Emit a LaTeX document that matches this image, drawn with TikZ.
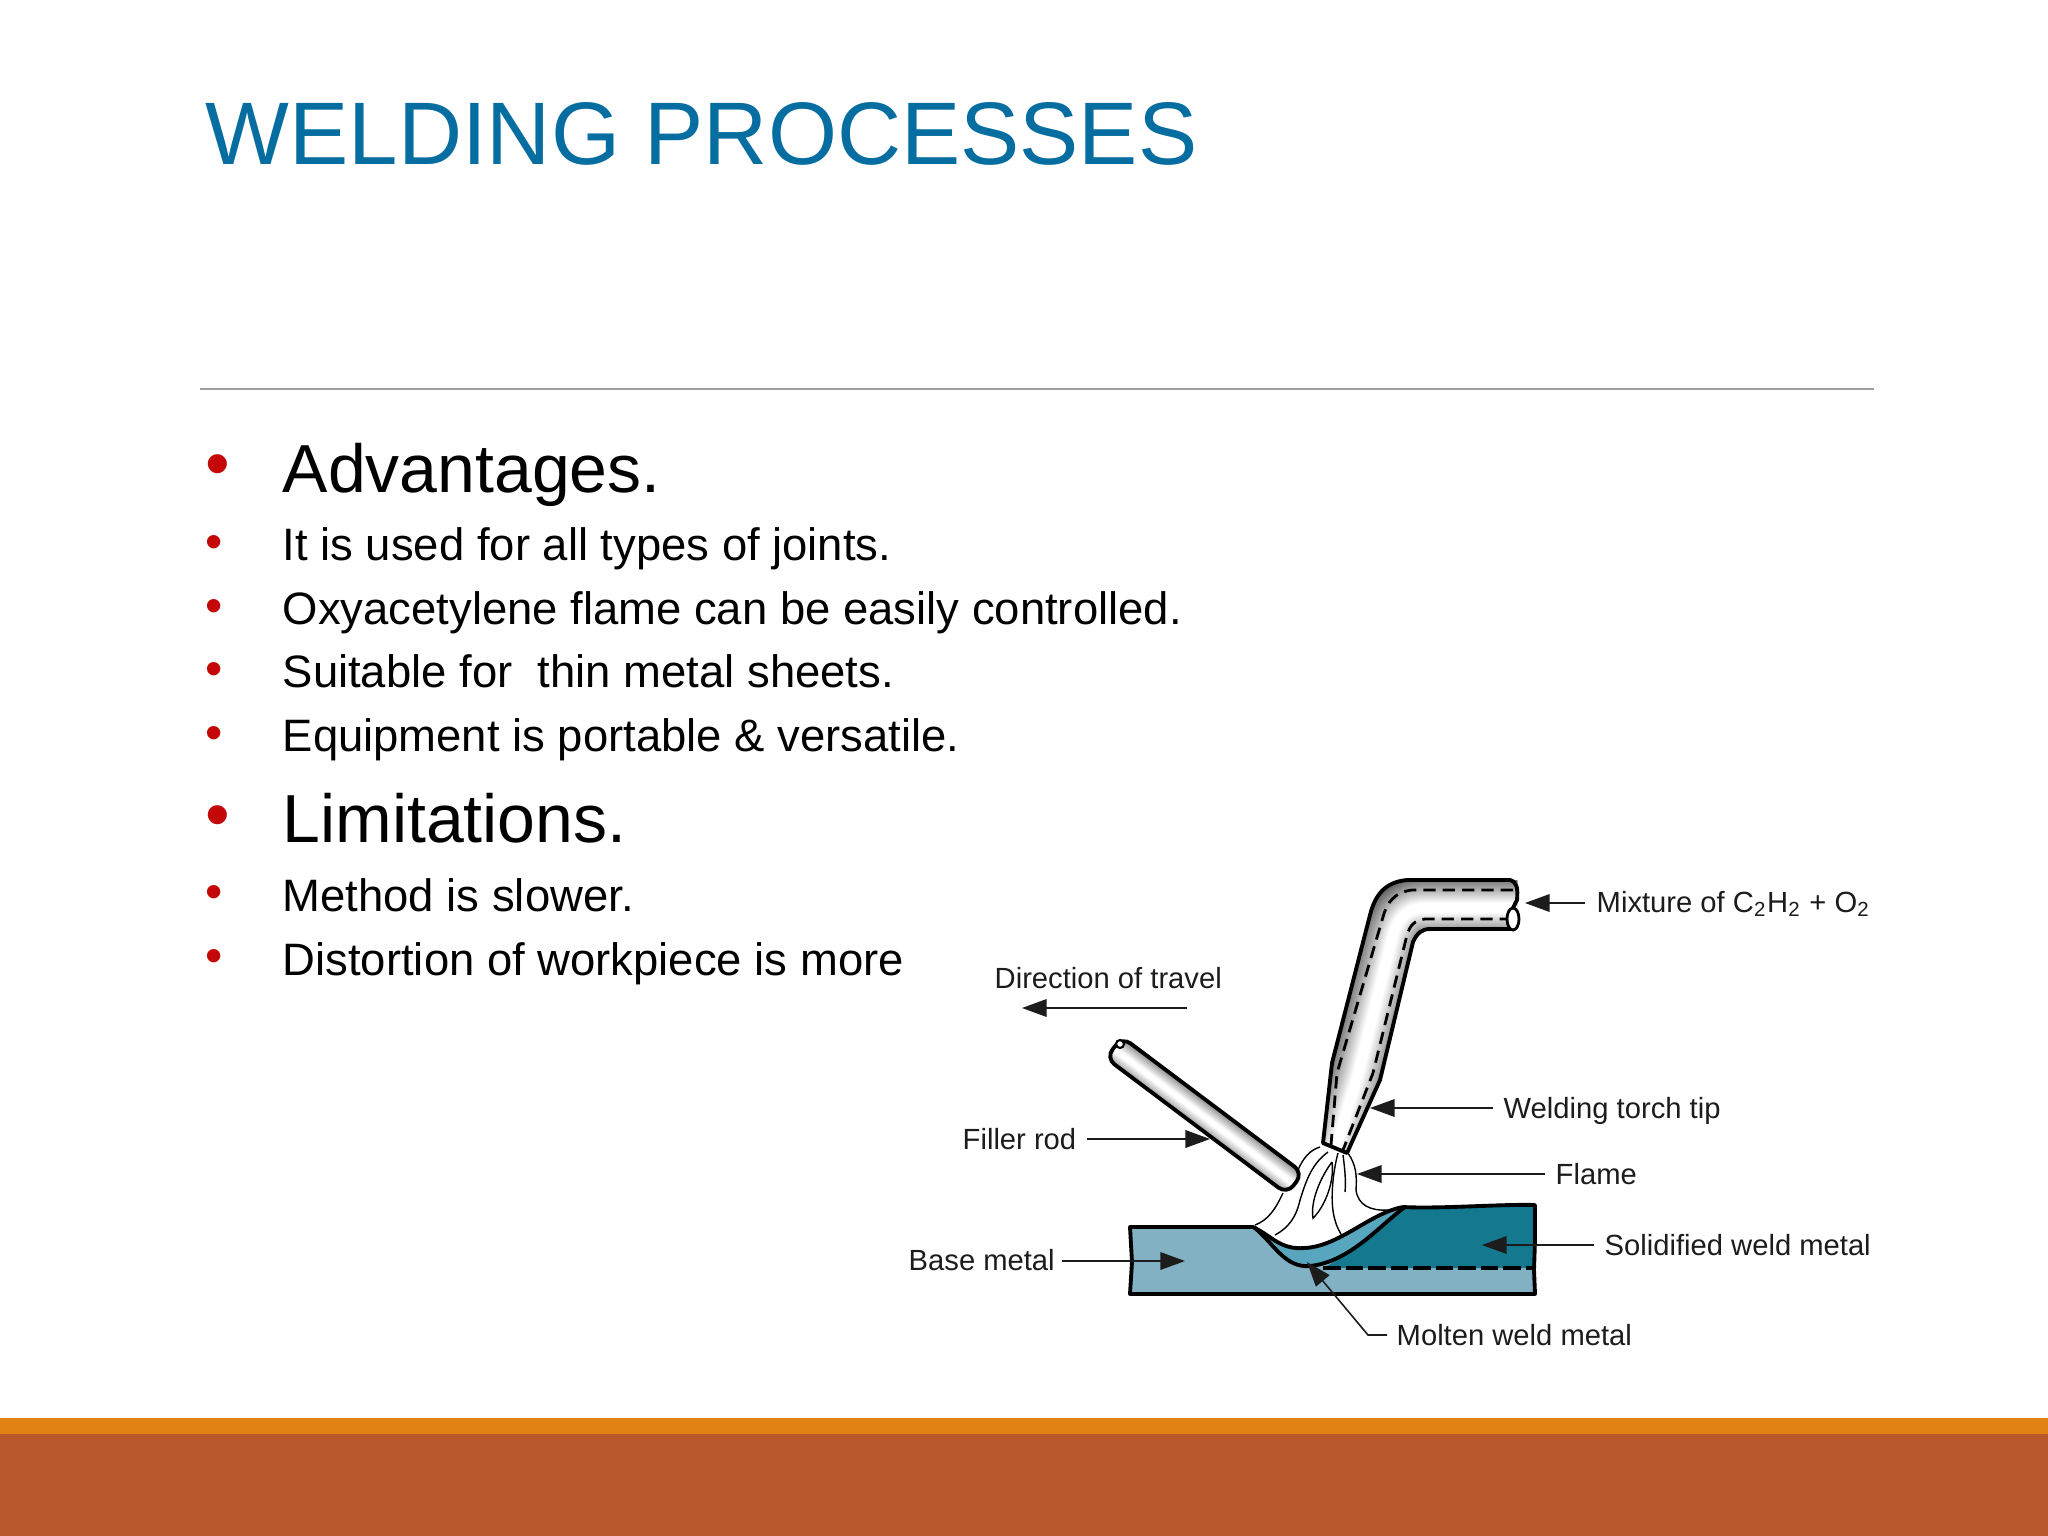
\documentclass[tikz,border=0pt]{standalone}
\usepackage{fontspec}
\setmainfont{Liberation Sans}
\usetikzlibrary{arrows.meta}
\definecolor{titleblue}{HTML}{056DA0}
\definecolor{bulletred}{HTML}{C40808}
\definecolor{barorange}{HTML}{E08214}
\definecolor{barrust}{HTML}{B9582C}
\definecolor{basemetal}{HTML}{82B1C4}
\definecolor{weldmetal}{HTML}{14788E}
\definecolor{moltenmetal}{HTML}{58A6BD}
\definecolor{labelgray}{HTML}{1C1C1C}
\tikzset{
    bigitem/.style = {anchor = base west, inner sep = 0, font = \fontsize{19.33}{19.33}\selectfont},
    smallitem/.style = {anchor = base west, inner sep = 0, font = \fontsize{12.92}{12.92}\selectfont},
    bigdot/.style = {anchor = base west, inner sep = 0, text = bulletred, font = \fontsize{20}{20}\selectfont},
    smalldot/.style = {anchor = base west, inner sep = 0, text = bulletred, font = \fontsize{14}{14}\selectfont},
    figlabel/.style = {anchor = base west, inner sep = 0, text = labelgray, font = \fontsize{8.3}{8.3}\selectfont},
    callout/.style = {draw = labelgray, line width = 0.45pt, -{Triangle[length = 7pt, width = 5pt, fill = labelgray]}},
    outline/.style = {draw = black, line width = 1.1pt, line join = round},
    thinflame/.style = {draw = black, line width = 0.4pt}
}
\begin{document}
\begin{tikzpicture}[x = 0.01cm, y = -0.01cm]
    \useasboundingbox (0, 0) rectangle (2048, 1536);
    \fill[white] (0, 0) rectangle (2048, 1536);

    % footer
    \fill[barorange] (0, 1418) rectangle (2048, 1434);
    \fill[barrust] (0, 1434) rectangle (2048, 1536);

    % header
    \node[anchor = base west, inner sep = 0, text = titleblue, font = \fontsize{25.25}{25.25}\selectfont] (title) at (205, 164) {WELDING PROCESSES};
    \coordinate (ruleleft) at (200, 389);
    \coordinate (ruleright) at (1874, 389);
    \draw[draw = gray!75, line width = 0.4pt] (ruleleft) -- (ruleright);

    % bullets
    \node[bigdot] (dotadv) at (205, 487) {•};
    \node[smalldot] (dotjoints) at (205, 558) {•};
    \node[smalldot] (dotflame) at (205, 622) {•};
    \node[smalldot] (dotthin) at (205, 685) {•};
    \node[smalldot] (dotportable) at (205, 749) {•};
    \node[bigdot] (dotlim) at (205, 838) {•};
    \node[smalldot] (dotslow) at (205, 908) {•};
    \node[smalldot] (dotdist) at (205, 972) {•};

    \node[bigitem] (adv) at (282, 492) {Advantages.};
    \node[smallitem] (joints) at (282, 560) {It is used for all types of joints.};
    \node[smallitem] (flamectl) at (282, 624) {Oxyacetylene flame can be easily controlled.};
    \node[smallitem] (thin) at (282, 687) {Suitable for\ \ thin metal sheets.};
    \node[smallitem] (portable) at (282, 751) {Equipment is portable \& versatile.};
    \node[bigitem] (lim) at (282, 842) {Limitations.};
    \node[smallitem] (slow) at (282, 911) {Method is slower.};
    \node[smallitem] (dist) at (282, 975) {Distortion of workpiece is more};

    % plate
    \fill[basemetal] (1130, 1227) -- (1253, 1227) .. controls (1272, 1236) and (1280, 1250) .. (1305, 1248)
        .. controls (1340, 1246) and (1370, 1213) .. (1403, 1207) -- (1535, 1205) -- (1535, 1294) -- (1130, 1294) -- cycle;
    \fill[weldmetal] (1403, 1207) .. controls (1440, 1209) and (1500, 1204) .. (1535, 1205) -- (1535, 1268) -- (1323, 1268)
        .. controls (1350, 1255) and (1380, 1225) .. (1403, 1207);
    \fill[moltenmetal] (1255, 1228) .. controls (1272, 1236) and (1280, 1250) .. (1305, 1248)
        .. controls (1340, 1246) and (1370, 1213) .. (1403, 1207)
        .. controls (1380, 1225) and (1350, 1262) .. (1310, 1266)
        .. controls (1285, 1268) and (1275, 1245) .. (1255, 1228);
    \draw[draw = black, line width = 0.9pt, dash pattern = on 5pt off 1.4pt] (1323, 1268) -- (1535, 1268);
    \draw[outline] (1403, 1207) .. controls (1440, 1209) and (1500, 1204) .. (1535, 1205) -- (1535, 1240) -- (1534, 1270) -- (1535, 1294)
        -- (1130, 1294) -- (1132, 1262) -- (1130, 1227) -- (1253, 1227)
        .. controls (1272, 1236) and (1280, 1250) .. (1305, 1248)
        .. controls (1340, 1246) and (1370, 1213) .. (1403, 1207);
    \draw[outline] (1255, 1228) .. controls (1275, 1245) and (1285, 1268) .. (1310, 1266)
        .. controls (1350, 1262) and (1380, 1225) .. (1405, 1207);

    % flame
    \draw[thinflame] (1320, 1147) .. controls (1310, 1150) and (1303, 1158) .. (1298, 1170);
    \draw[thinflame] (1283, 1193) .. controls (1275, 1210) and (1268, 1220) .. (1255, 1225);
    \draw[thinflame] (1328, 1152) .. controls (1310, 1165) and (1305, 1185) .. (1300, 1200) .. controls (1296, 1218) and (1288, 1228) .. (1275, 1235);
    \draw[thinflame] (1332, 1162) .. controls (1322, 1175) and (1310, 1200) .. (1313, 1218) .. controls (1322, 1210) and (1335, 1185) .. (1332, 1162);
    \draw[thinflame] (1338, 1153) .. controls (1332, 1175) and (1330, 1205) .. (1335, 1220) .. controls (1337, 1228) and (1340, 1232) .. (1342, 1236);
    \draw[thinflame] (1343, 1155) .. controls (1345, 1170) and (1346, 1182) .. (1345, 1192);
    \draw[thinflame] (1348, 1153) .. controls (1356, 1165) and (1357, 1175) .. (1356, 1190) .. controls (1358, 1205) and (1370, 1211) .. (1388, 1210);

    % filler rod
    \begin{scope}
        \clip[rounded corners = 3pt] (1122, 1037) -- (1303, 1173) -- (1287, 1194) -- (1106, 1058) -- cycle;
        \foreach \lw in {34, 32, ..., 2} {
            \pgfmathsetmacro{\shadeval}{45 + (34 - \lw) * 1.9}
            \draw[draw = white!\shadeval!black, line width = \lw * 0.2845pt] (1090, 1031) -- (1315, 1200);
        }
    \end{scope}
    \draw[outline, rounded corners = 3pt] (1122, 1037) -- (1303, 1173) -- (1287, 1194) -- (1106, 1058) -- cycle;
    \draw[fill = white, line width = 0.6pt] (1120, 1044) circle (4);

    % torch
    \begin{scope}
        \clip (1517, 880) -- (1407, 880) .. controls (1385, 882) and (1375, 895) .. (1370, 915) -- (1332, 1063) -- (1323, 1143) -- (1347, 1153) -- (1380, 1080) -- (1413, 942)
            .. controls (1417, 933) and (1422, 929) .. (1430, 929) -- (1517, 929) -- cycle;
        \foreach \lw in {64, 62, ..., 4} {
            \pgfmathsetmacro{\shadeval}{38 + (64 - \lw) * 1.15}
            \draw[draw = white!\shadeval!black, line width = \lw * 0.2845pt, line join = round]
                (1530, 908) -- (1425, 908) .. controls (1405, 908) and (1398, 920) .. (1393, 935) -- (1358, 1075) -- (1335, 1150);
        }
    \end{scope}
    \draw[draw = black, line width = 0.8pt, dash pattern = on 3.5pt off 2pt] (1513, 890) -- (1412, 890) .. controls (1395, 892) and (1387, 902) .. (1383, 917) -- (1337, 1073) -- (1331, 1145);
    \draw[draw = black, line width = 0.8pt, dash pattern = on 3.5pt off 2pt] (1512, 919) -- (1425, 919) .. controls (1415, 920) and (1410, 925) .. (1407, 935) -- (1373, 1073) -- (1343, 1150);
    \draw[outline] (1513, 908) -- (1517, 900) .. controls (1518, 888) and (1517, 882) .. (1510, 880) -- (1407, 880) .. controls (1385, 882) and (1375, 895) .. (1370, 915) -- (1332, 1063) -- (1323, 1143) -- (1347, 1153) -- (1380, 1080) -- (1413, 942)
        .. controls (1417, 933) and (1422, 929) .. (1430, 929) -- (1512, 929);
    \draw[fill = white, line width = 0.8pt] (1513, 919) ellipse (6 and 11);

    % labels
    \node[figlabel] (mixture) at (1596, 912) {Mixture of C\textsubscript{2}H\textsubscript{2} + O\textsubscript{2}};
    \node[figlabel] (torchtip) at (1503, 1118) {Welding torch tip};
    \node[figlabel] (flamelab) at (1555, 1184) {Flame};
    \node[figlabel] (solidified) at (1604, 1255) {Solidified weld metal};
    \node[figlabel] (molten) at (1396, 1345) {Molten weld metal};
    \node[figlabel] (base) at (908, 1270) {Base metal};
    \node[figlabel] (filler) at (962, 1149) {Filler rod};
    \node[figlabel] (travel) at (994, 988) {Direction of travel};

    % arrow ends
    \coordinate (mixturetail) at (1585, 903);
    \coordinate (mixturetip) at (1525, 903);
    \coordinate (torchtail) at (1493, 1108);
    \coordinate (torchend) at (1370, 1108);
    \coordinate (flametail) at (1545, 1174);
    \coordinate (flameend) at (1357, 1174);
    \coordinate (solidtail) at (1594, 1245);
    \coordinate (solidend) at (1482, 1245);
    \coordinate (basetail) at (1062, 1261);
    \coordinate (baseend) at (1185, 1261);
    \coordinate (fillertail) at (1087, 1139);
    \coordinate (fillerend) at (1210, 1139);
    \coordinate (traveltail) at (1187, 1008);
    \coordinate (travelend) at (1022, 1008);
    \coordinate (moltentail) at (1387, 1335);
    \coordinate (moltenbend) at (1368, 1335);
    \coordinate (moltenend) at (1307, 1262);

    \draw[callout] (mixturetail) -- (mixturetip);
    \draw[callout] (torchtail) -- (torchend);
    \draw[callout] (flametail) -- (flameend);
    \draw[callout] (solidtail) -- (solidend);
    \draw[callout] (basetail) -- (baseend);
    \draw[callout] (fillertail) -- (fillerend);
    \draw[callout] (traveltail) -- (travelend);
    \draw[callout] (moltentail) -- (moltenbend) -- (moltenend);
\end{tikzpicture}
\end{document}
